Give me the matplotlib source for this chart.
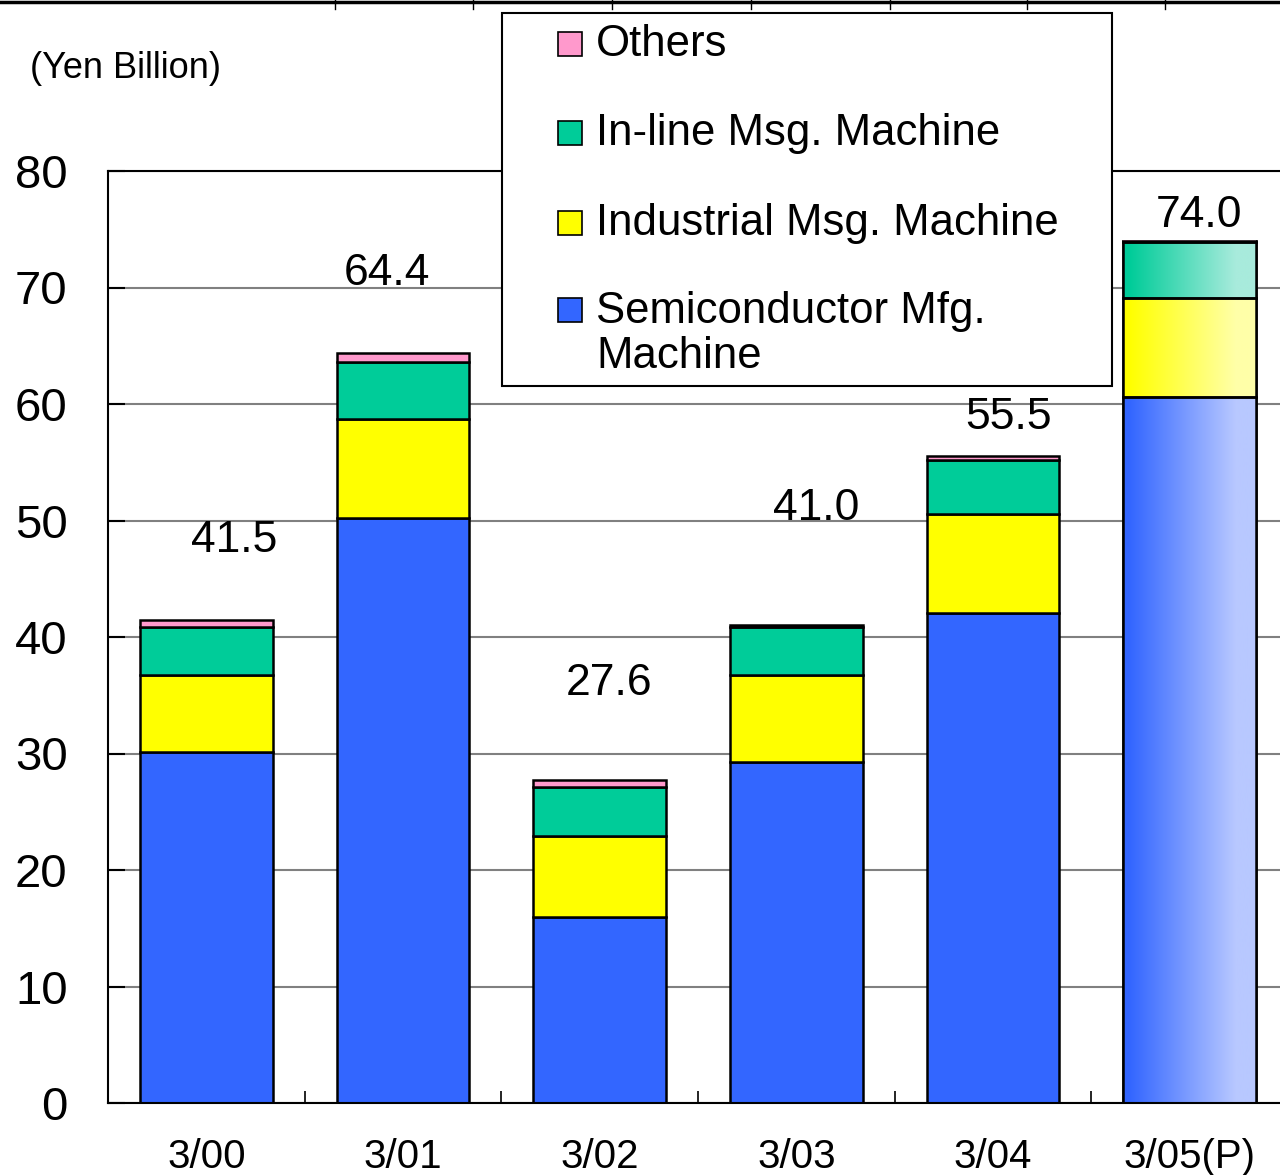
import matplotlib.pyplot as plt
import numpy as np
from matplotlib.colors import LinearSegmentedColormap
from matplotlib.patches import Rectangle
from matplotlib.lines import Line2D

plt.rcParams['font.family'] = ['Liberation Sans', 'DejaVu Sans']

years = ["3/00", "3/01", "3/02", "3/03", "3/04", "3/05(P)"]
semiconductor = [30.1, 50.2, 16.0, 29.3, 42.1, 60.6]
industrial = [6.6, 8.5, 6.9, 7.4, 8.5, 8.5]
inline = [4.2, 4.9, 4.2, 4.2, 4.6, 4.8]
others = [0.6, 0.8, 0.6, 0.1, 0.3, 0.1]
totals = ["41.5", "64.4", "27.6", "41.0", "55.5", "74.0"]

series = ["Semiconductor Mfg.\nMachine", "Industrial Msg. Machine",
          "In-line Msg. Machine", "Others"]
colors = ["#3366FF", "#FFFF00", "#00CC99", "#FF99CC"]
light = ["#B8C8FF", "#FFFFA8", "#A8EBDC", "#FFD6EA"]

# label placement (offsets from bar centre / total)
lab_dx = [0.14, -0.08, 0.05, 0.10, 0.08, 0.05]
lab_dy = [6.8, 6.8, 8.3, 10.0, 3.3, 2.2]

fig = plt.figure(figsize=(12.8, 11.75), dpi=100)
ax = fig.add_axes([108/1280, 1 - 1103/1175, 1180/1280, 932/1175])

x = np.arange(len(years))
w = 0.675
bottom = np.zeros(len(years))
containers = []
for vals, c in zip([semiconductor, industrial, inline, others], colors):
    bars = ax.bar(x, vals, w, bottom=bottom, color=c, edgecolor='black',
                  linewidth=1.8, zorder=2)
    containers.append(bars)
    bottom += np.array(vals)

# gradient fill for the forecast bar
for bars, c0, c1 in zip(containers, colors, light):
    p = bars.patches[-1]
    cmap = LinearSegmentedColormap.from_list("g", [(0, c0), (0.05, c0), (0.85, c1), (1, c1)])
    grad = np.linspace(0, 1, 256).reshape(1, -1)
    ax.imshow(grad, cmap=cmap, aspect='auto', zorder=2.5,
              extent=[p.get_x(), p.get_x() + p.get_width(),
                      p.get_y(), p.get_y() + p.get_height()])
    ax.add_patch(Rectangle((p.get_x(), p.get_y()), p.get_width(), p.get_height(),
                           facecolor='none', edgecolor='black', linewidth=1.8, zorder=3))

for i, t in enumerate(totals):
    ax.text(x[i] + lab_dx[i], bottom[i] + lab_dy[i], t, ha='center', va='center',
            fontsize=32, zorder=4)

ax.set_xlim(-0.5, 5.5)
ax.set_ylim(0, 80)
ax.set_yticks(range(0, 81, 10))
ax.set_xticks(x)
ax.set_xticklabels(years, fontsize=29)
ax.set_xticks(x[:-1] + 0.5, minor=True)
ax.tick_params(axis='y', labelsize=34, direction='in', length=12, width=1.5, pad=29)
ax.tick_params(axis='x', which='major', length=0, pad=25)
ax.tick_params(axis='x', which='minor', direction='in', length=9, width=1.2)
ax.yaxis.grid(True, color='#808080', linewidth=1.5, zorder=0)
ax.set_axisbelow(True)
for s in ax.spines.values():
    s.set_linewidth(1.5)

fig.text(30/1280, 1 - 68/1175, "(Yen Billion)", fontsize=26, va='center', ha='left')

# legend box
fig.patches.append(Rectangle((502/1280, 1 - 386/1175), 610/1280, 373/1175,
                             transform=fig.transFigure, facecolor='white',
                             edgecolor='black', linewidth=1.5, zorder=5))
rows = [44, 133, 223, 310]
for r, name, c in zip(rows, series[::-1], colors[::-1]):
    fig.patches.append(Rectangle((558/1280, 1 - (r + 12)/1175), 24/1280, 24/1175,
                                 transform=fig.transFigure, facecolor=c,
                                 edgecolor='black', linewidth=1.2, zorder=6))
    fig.text(596/1280, 1 - r/1175, name, fontsize=31.5, va='top' if '\n' in name else 'center',
             ha='left', linespacing=1.12, zorder=7)
fig.texts[-1].set_y(1 - 291/1175)

# stray line along the top edge
fig.add_artist(Line2D([0, 1], [1 - 1.5/1175] * 2, color='black', linewidth=2.5,
                      transform=fig.transFigure))
for tx in [335, 473, 612, 751, 890, 1027, 1165]:
    fig.add_artist(Line2D([tx/1280] * 2, [1, 1 - 9/1175], color='black', linewidth=1,
                          transform=fig.transFigure))

fig.savefig("out.png", dpi=100)
